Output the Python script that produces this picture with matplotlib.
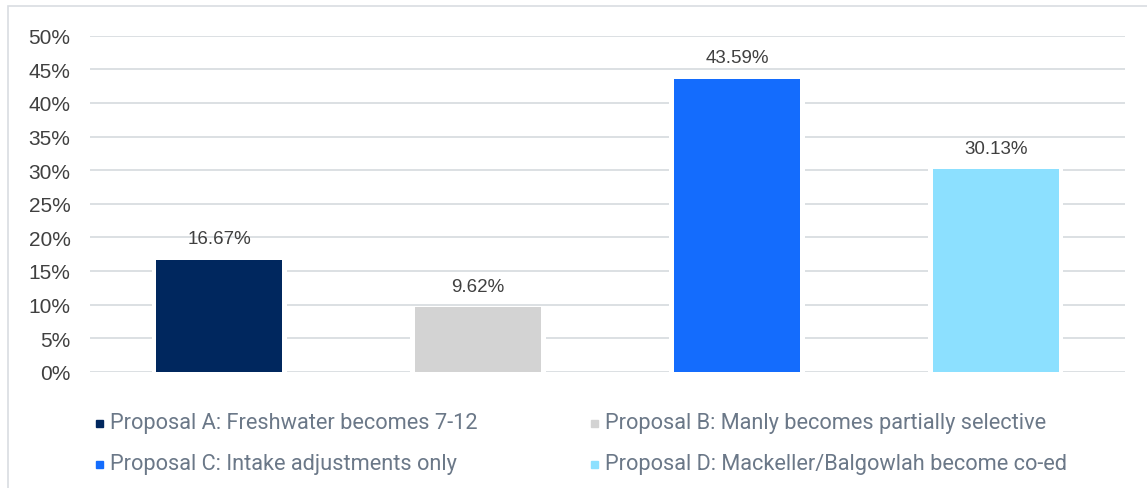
import matplotlib.pyplot as plt
from matplotlib.patches import Rectangle

proposals = [
    "Proposal A: Freshwater becomes 7-12",
    "Proposal B: Manly becomes partially selective",
    "Proposal C: Intake adjustments only",
    "Proposal D: Mackeller/Balgowlah become co-ed",
]
shares = [16.67, 9.62, 43.59, 30.13]
colors = ["#00275E", "#D3D3D3", "#146CFD", "#8CE0FF"]
y_ticks = [0, 5, 10, 15, 20, 25, 30, 35, 40, 45, 50]

W, H = 1147, 489
fig = plt.figure(figsize=(W / 100, H / 100), dpi=100)
ax = fig.add_axes([90 / W, 116.3 / H, 1035 / W, 336 / H])

# light frame around the chart area
fig.patches.append(Rectangle((8 / W, -0.2), 1.2, 1.2 - 7 / H, transform=fig.transFigure,
                             fill=False, edgecolor="#D9DDE1", linewidth=1.2))

x = list(range(len(shares)))
ax.set_axisbelow(True)
ax.grid(axis="y", color="#D9DDE1", linewidth=1.3)
# white gap around each bar, then the bar itself
ax.bar(x, shares, width=0.523, color="white", zorder=2)
ax.bar(x, shares, width=0.487, color=colors, zorder=3)

for xi, v in zip(x, shares):
    ax.annotate(f"{v:.2f}%", (xi, v), xytext=(0, 9), textcoords="offset points",
                ha="center", va="bottom", fontsize=13.5, color="#404040",
                family="Liberation Sans")

ax.set_xlim(-0.5, len(shares) - 0.5)
ax.set_ylim(0, 50)
ax.set_yticks(y_ticks)
ax.set_yticklabels([f"{t}%" for t in y_ticks], family="Liberation Sans",
                   fontsize=15, color="#404040")
ax.set_xticks([])
ax.tick_params(axis="y", length=0, pad=14)
for s in ax.spines.values():
    s.set_visible(False)

# legend in two columns below the plot
col_x = [96 / W, 591 / W]
row_y = [1 - 424 / H, 1 - 465 / H]
for i, (name, c) in enumerate(zip(proposals, colors)):
    cx = col_x[i % 2]
    ry = row_y[i // 2]
    fig.patches.append(Rectangle((cx, ry - 3.5 / H), 7 / W, 7 / H,
                                 transform=fig.transFigure, color=c))
    fig.text(cx + 14 / W, ry, name, fontsize=15.7, color="#6B7888",
             family="Roboto", va="center", ha="left")

fig.savefig("out.png", dpi=100)
